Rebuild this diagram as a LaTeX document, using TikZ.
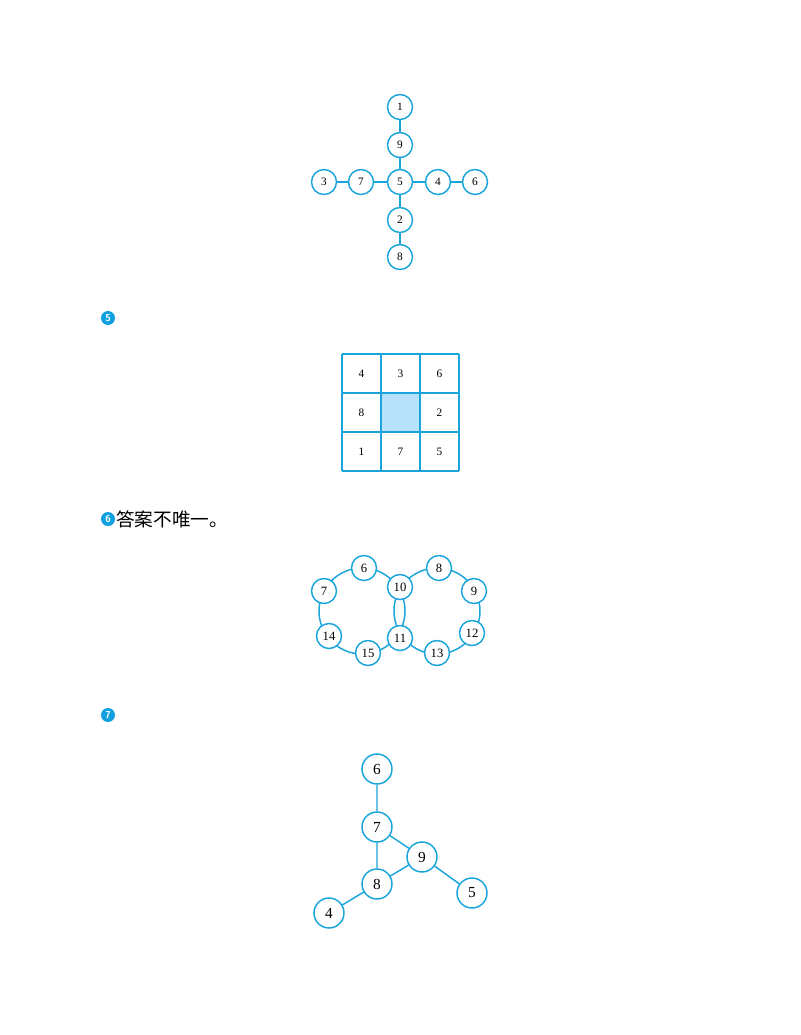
\documentclass[tikz,border=0pt]{standalone}
\usepackage{fontspec}
\setmainfont{Liberation Serif}
\newfontfamily\cjk{Noto Sans CJK SC}
\definecolor{lineblue}{RGB}{25,165,220}
\definecolor{cellblue}{RGB}{182,226,250}
\definecolor{badgeblue}{RGB}{16,160,224}
\begin{document}
\begin{tikzpicture}[x=0.75pt,y=-0.75pt,
  edge/.style={draw=lineblue,line width=1.1pt},
  num/.style={circle,draw=lineblue,line width=1.1pt,fill=white,minimum size=18.75pt,inner sep=0pt,font=\fontsize{8.5}{8.5}\selectfont},
  ringnum/.style={num,font=\fontsize{9.5}{9.5}\selectfont},
  bignum/.style={num,minimum size=22.5pt,font=\fontsize{11.5}{11.5}\selectfont},
  cell/.style={font=\fontsize{8.5}{8.5}\selectfont},
  badge/.style={circle,fill=badgeblue,text=white,minimum size=10.5pt,inner sep=0pt,font=\sffamily\bfseries\fontsize{7.5}{7.5}\selectfont}]
\useasboundingbox (0,0) rectangle (800,1035);

% cross
\node[num] (c1) at (400,107) {1};
\node[num] (c9) at (400,145) {9};
\node[num] (c5) at (400,182) {5};
\node[num] (c2) at (400,220) {2};
\node[num] (c8) at (400,257) {8};
\node[num] (c3) at (324,182) {3};
\node[num] (c7) at (361,182) {7};
\node[num] (c4) at (438,182) {4};
\node[num] (c6) at (475,182) {6};
\draw[edge] (c1) -- (c9) -- (c5) -- (c2) -- (c8);
\draw[edge] (c3) -- (c7) -- (c5) -- (c4) -- (c6);

% grid
\node[badge] (b5) at (108,318) {5};
\begin{scope}[shift={(342,354)},x=29.25pt,y=-29.25pt]
\fill[cellblue] (1,1) rectangle (2,2);
\foreach \k in {0,1,2,3} {
  \draw[edge,line width=1pt] (\k,0) -- (\k,3);
  \draw[edge,line width=1pt] (0,\k) -- (3,\k);
}
\node[cell] (g1) at (0.5,0.5) {4};
\node[cell] (g2) at (1.5,0.5) {3};
\node[cell] (g3) at (2.5,0.5) {6};
\node[cell] (g4) at (0.5,1.5) {8};
\node[cell] (g6) at (2.5,1.5) {2};
\node[cell] (g7) at (0.5,2.5) {1};
\node[cell] (g8) at (1.5,2.5) {7};
\node[cell] (g9) at (2.5,2.5) {5};
\end{scope}

% rings
\node[badge] (b6) at (108,519) {6};
\node[anchor=west,inner sep=0pt,font=\cjk\fontsize{14}{14}\selectfont] (note) at (116,519) {答案不唯一。};
\coordinate (cL) at (362,611);
\coordinate (cR) at (437,611);
\draw[edge] (cL) circle[radius=32.25pt];
\draw[edge] (cR) circle[radius=32.25pt];
\node[ringnum] (r6) at (364,568) {6};
\node[ringnum] (r7) at (324,591) {7};
\node[ringnum] (r14) at (329,636) {14};
\node[ringnum] (r15) at (368,653) {15};
\node[ringnum] (r10) at (400,587) {10};
\node[ringnum] (r11) at (400,638) {11};
\node[ringnum] (r8) at (439,568) {8};
\node[ringnum] (r9) at (474,591) {9};
\node[ringnum] (r12) at (472,633) {12};
\node[ringnum] (r13) at (437,653) {13};

% triangle graph
\node[badge] (b7) at (108,715) {7};
\node[bignum] (t6) at (377,769) {6};
\node[bignum] (t7) at (377,827) {7};
\node[bignum] (t9) at (422,857) {9};
\node[bignum] (t8) at (377,884) {8};
\node[bignum] (t5) at (472,893) {5};
\node[bignum] (t4) at (329,913) {4};
\draw[edge] (t6) -- (t7) -- (t8) -- (t4);
\draw[edge] (t7) -- (t9) -- (t8);
\draw[edge] (t9) -- (t5);
\end{tikzpicture}
\end{document}
